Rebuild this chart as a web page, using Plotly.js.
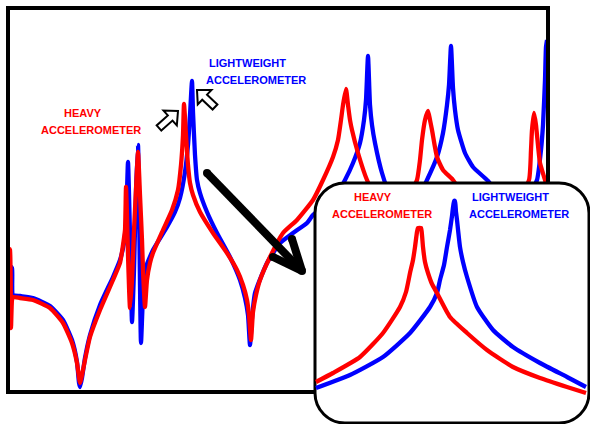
<!DOCTYPE html>
<html>
<head>
<meta charset="utf-8">
<script src="https://cdn.plot.ly/plotly-3.0.1.min.js"></script>
<style>html,body{margin:0;padding:0;background:#fff;}#chart{width:590px;height:424px;}</style>
</head>
<body>
<div id="chart"></div>
<script>
// ---- Main FRF plot (frequency in arbitrary units, amplitude in arbitrary units) ----
const lightX = [10,12,13,20,33,50,63,72,77,79,80,82,85,90,100,113,120,124,126,128,130,132,134,136,138,139,141,143,145,153,167,175,180,185,188,190,192,193,195,197,200,207,217,230,240,245,248,250,252,255,267,280,293,307,313,325,338,345,353,360,364,366,368,370,372,375,382,390,405,418,427,437,443,447,449,451,453,455,458,465,473,488,500,515,527,537,541,543,545,546,547];
const lightY = [158,156,129,128,126,118,104,84,62,41,37,46,66,89,119,147,164,181,202,262,189,102,154,234,279,224,81,129,154,174,197,212,226,252,279,309,343,312,269,244,231,212,191,167,144,126,109,79,106,131,161,181,191,201,209,219,232,244,261,281,304,324,368,319,299,281,251,229,212,226,244,267,291,319,339,378,336,314,294,271,257,243,226,212,224,244,274,299,344,377,384];

const heavyX = [9,10,11,12,13,20,33,50,63,72,77,80,82,85,90,100,113,120,123,125,126,127,128,130,132,134,136,138,140,142,143,145,147,150,153,163,172,178,181,183,184,186,188,190,193,200,213,227,237,243,247,249,251,253,256,260,270,283,297,313,323,333,338,341,343,346,348,350,352,358,367,380,395,408,417,420,422,425,428,430,432,437,443,453,470,495,515,529,531,532,534,536,537,540,545,548];
const heavyY = [176,174,96,124,127,126,124,116,101,81,61,41,49,64,87,114,144,161,179,194,237,209,169,116,144,194,234,272,229,184,154,117,144,161,171,194,214,234,259,289,320,289,259,241,229,212,191,171,154,139,124,109,84,112,129,144,167,191,204,224,244,267,284,304,319,335,319,304,294,271,244,219,212,226,244,264,284,304,313,304,294,267,254,244,219,209,219,244,274,294,311,299,289,261,244,232];

// ---- Inset (zoom of one resonance) ----
const insetLightX = [316,350,383,410,430,437,440,444,447,450,452,454,455,456,457,460,463,467,477,493,513,540,567,586];
const insetLightY = [36,49,67,91,117,131,144,159,177,194,208,223,223,212,204,177,162,147,117,94,77,61,47,37];
const insetHeavyX = [316,333,360,383,400,406,410,413,415,417,418,421,422,423,425,428,432,437,450,467,487,513,540,567,586];
const insetHeavyY = [42,51,67,91,117,132,151,164,177,192,196,196,189,177,162,151,140,131,107,91,74,57,46,37,31];

// ---- Labels ----
const heavyLabel = ["HEAVY", "ACCELEROMETER"];
const lightLabel = ["LIGHTWEIGHT", "ACCELEROMETER"];

const RED = '#ff0000', BLUE = '#0000ff';
const W = 590, H = 424;
const px = x => x / W;
const py = y => 1 - y / H;

const lineStyle = c => ({color: c, width: 4.3, shape: 'spline', smoothing: 0.5});
const traces = [
  {x: lightX, y: lightY, xaxis: 'x', yaxis: 'y', mode: 'lines', line: lineStyle(BLUE), hoverinfo: 'skip'},
  {x: heavyX, y: heavyY, xaxis: 'x', yaxis: 'y', mode: 'lines', line: lineStyle(RED), hoverinfo: 'skip'},
  {x: insetLightX, y: insetLightY, xaxis: 'x2', yaxis: 'y2', mode: 'lines', line: lineStyle(BLUE), hoverinfo: 'skip'},
  {x: insetHeavyX, y: insetHeavyY, xaxis: 'x2', yaxis: 'y2', mode: 'lines', line: lineStyle(RED), hoverinfo: 'skip'}
];

function roundedRect(x0, y0, x1, y1, r) {
  const k = 0.552 * r;
  return `M ${x0 + r},${y1} L ${x1 - r},${y1} C ${x1 - r + k},${y1} ${x1},${y1 - r + k} ${x1},${y1 - r} ` +
         `L ${x1},${y0 + r} C ${x1},${y0 + r - k} ${x1 - r + k},${y0} ${x1 - r},${y0} ` +
         `L ${x0 + r},${y0} C ${x0 + r - k},${y0} ${x0},${y0 + r - k} ${x0},${y0 + r} ` +
         `L ${x0},${y1 - r} C ${x0},${y1 - r + k} ${x0 + r - k},${y1} ${x0 + r},${y1} Z`;
}

function blockArrow(tx, ty, hx, hy, w, hl, hw) {
  const L = Math.hypot(hx - tx, hy - ty);
  const ux = (hx - tx) / L, uy = (hy - ty) / L;
  const nx = -uy, ny = ux;
  const bx = hx - ux * hl, by = hy - uy * hl;
  const pts = [
    [tx + nx * w, ty + ny * w], [bx + nx * w, by + ny * w], [bx + nx * hw, by + ny * hw],
    [hx, hy], [bx - nx * hw, by - ny * hw], [bx - nx * w, by - ny * w], [tx - nx * w, ty - ny * w]
  ];
  return 'M ' + pts.map(p => px(p[0]).toFixed(5) + ',' + py(p[1]).toFixed(5)).join(' L ') + ' Z';
}

const shapes = [];
// inset rounded panel (drawn in the inset subplot, above the main plot)
shapes.push({type: 'path', xref: 'x2', yref: 'y2', layer: 'below',
  path: roundedRect(315, 1, 589, 241, 30), fillcolor: '#ffffff', line: {color: '#000', width: 3}});

// small outlined arrows
shapes.push({type: 'path', xref: 'paper', yref: 'paper', layer: 'above',
  path: blockArrow(159, 128, 178, 111, 3.5, 10.5, 10), fillcolor: '#fff', line: {color: '#000', width: 2}});
shapes.push({type: 'path', xref: 'paper', yref: 'paper', layer: 'above',
  path: blockArrow(215, 107, 197, 90, 3.5, 10.5, 10), fillcolor: '#fff', line: {color: '#000', width: 2}});

// big arrow
const segs = [[207, 173, 302, 271], [302, 271, 292, 239], [302, 271, 273, 257]];
segs.forEach(s => shapes.push({type: 'line', xref: 'paper', yref: 'paper', layer: 'above',
  x0: px(s[0]), y0: py(s[1]), x1: px(s[2]), y1: py(s[3]), line: {color: '#000', width: 8}}));
[[207, 173], [302, 271], [292, 239], [273, 257]].forEach(c => shapes.push({type: 'circle', xref: 'paper', yref: 'paper', layer: 'above',
  x0: px(c[0] - 4), x1: px(c[0] + 4), y0: py(c[1] + 4), y1: py(c[1] - 4), fillcolor: '#000', line: {width: 0}}));

function label(text, xLeft, yCenter, color) {
  return {text: '<b>' + text + '</b>', xref: 'paper', yref: 'paper', x: px(xLeft), y: py(yCenter + 1),
    xanchor: 'left', yanchor: 'middle', showarrow: false,
    font: {family: 'Liberation Sans, Arial, sans-serif', size: 11, color: color}};
}
const annotations = [
  label(heavyLabel[0], 62, 112, RED), label(heavyLabel[1], 39, 129, RED),
  label(lightLabel[0], 207, 62, BLUE), label(lightLabel[1], 204, 79, BLUE),
  label(heavyLabel[0], 352, 196, RED), label(heavyLabel[1], 330, 213, RED),
  label(lightLabel[0], 470, 196, BLUE), label(lightLabel[1], 467, 213, BLUE)
];

const hidden = {visible: false};
const layout = {
  width: W, height: H, margin: {l: 0, r: 0, t: 0, b: 0},
  paper_bgcolor: '#ffffff', plot_bgcolor: 'rgba(0,0,0,0)', showlegend: false,
  xaxis: {domain: [10 / W, 546 / W], range: [10, 546], showgrid: false, zeroline: false, showticklabels: false, ticks: '',
    showline: true, mirror: true, linecolor: '#000', linewidth: 4, fixedrange: true},
  yaxis: {domain: [34 / H, 414 / H], range: [34, 414], showgrid: false, zeroline: false, showticklabels: false, ticks: '',
    showline: true, mirror: true, linecolor: '#000', linewidth: 4, fixedrange: true},
  xaxis2: Object.assign({domain: [312 / W, 1], range: [312, 590], anchor: 'y2'}, hidden),
  yaxis2: Object.assign({domain: [0, 243 / H], range: [0, 243], anchor: 'x2'}, hidden),
  shapes: shapes, annotations: annotations
};

Plotly.newPlot('chart', traces, layout, {staticPlot: true, displayModeBar: false});
</script>
</body>
</html>
